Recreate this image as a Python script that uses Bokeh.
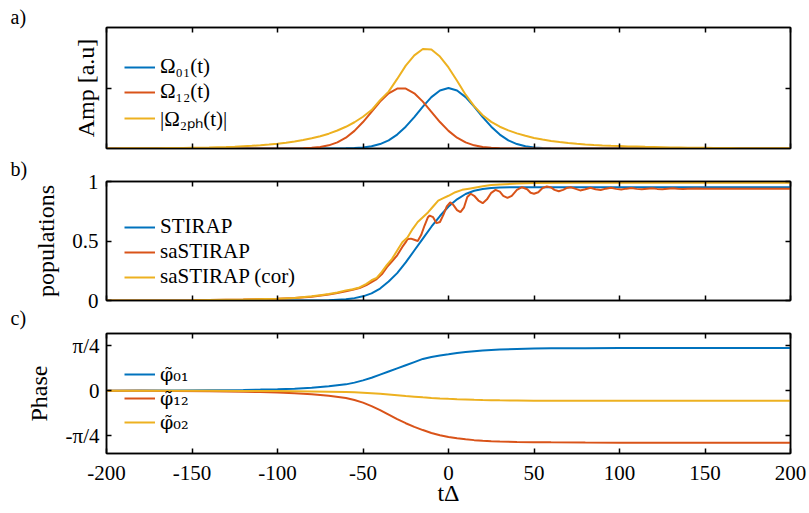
import numpy as np
from bokeh.plotting import figure
from bokeh.models import (Range1d, LinearAxis, FixedTicker, Legend, LegendItem,
                          Title)
from bokeh.layouts import column
from bokeh.embed import file_html
from bokeh.resources import INLINE

BLUE = "#0072BD"
RED = "#D95319"
YEL = "#EDB120"
FONT = "Liberation Serif"

# ---------------- data ----------------
x_ticks = [-200, -150, -100, -50, 0, 50, 100, 150, 200]
x_tick_labels = ["-200", "-150", "-100", "-50", "0", "50", "100", "150", "200"]

# panel a : pulse amplitudes (sampled every 5 units of t)
t_a = list(range(-200, 201, 5))
omega01 = [0.0] * 27 + [
    0.001, 0.003, 0.007, 0.017, 0.037, 0.073, 0.135, 0.230, 0.361, 0.520,
    0.693, 0.849, 0.960, 1.000, 0.960, 0.849, 0.693, 0.520, 0.361, 0.230,
    0.135, 0.073, 0.037, 0.017, 0.007, 0.003, 0.001] + [0.0] * 27
omega12 = [0.0] * 22 + [
    0.002, 0.005, 0.011, 0.025, 0.052, 0.101, 0.178, 0.291, 0.437, 0.607,
    0.775, 0.912, 0.990, 0.990, 0.912, 0.775, 0.607, 0.437, 0.291, 0.178,
    0.101, 0.052, 0.025, 0.011, 0.005, 0.002] + [0.0] * 33
omega2ph = [
    0.002, 0.002, 0.003, 0.003, 0.004, 0.005, 0.006, 0.007, 0.008, 0.010,
    0.012, 0.014, 0.017, 0.021, 0.025, 0.030, 0.037, 0.044, 0.054, 0.065,
    0.079, 0.095, 0.115, 0.139, 0.168, 0.203, 0.245, 0.297, 0.359, 0.434,
    0.525, 0.635, 0.800, 0.940, 1.150, 1.370, 1.540, 1.645, 1.635, 1.520,
    1.340, 1.120, 0.890, 0.700, 0.550, 0.440, 0.360, 0.300, 0.250, 0.210,
    0.175, 0.148, 0.125, 0.106, 0.090, 0.077, 0.066, 0.058, 0.051, 0.045,
    0.040, 0.035, 0.031, 0.027, 0.024, 0.021, 0.018, 0.016, 0.014, 0.012,
    0.011, 0.009, 0.008, 0.007, 0.006, 0.005, 0.0045, 0.004, 0.0035, 0.003,
    0.0027]
amp_ticks = [1]

# panel b : populations
st_t = [-200, -100, -80, -70, -60, -55, -50, -45, -40, -35, -30, -25, -20,
        -15, -10, -5, 0, 5, 10, 15, 20, 25, 30, 40, 50, 200]
st_p = [0, 0, 0.001, 0.003, 0.01, 0.02, 0.035, 0.06, 0.10, 0.16, 0.23, 0.32,
        0.42, 0.52, 0.62, 0.71, 0.79, 0.85, 0.895, 0.922, 0.937, 0.945, 0.95,
        0.952, 0.952, 0.952]
sa_t = [-200, -150, -120, -100, -90, -80, -70, -65, -60, -56,
        -52, -48, -45, -42, -39, -36, -33, -30, -27, -25,
        -24, -22, -20, -18, -16, -14, -12, -11, -9, -7,
        -5, -3, -1, 1, 3, 5, 7, 9, 11, 13,
        15, 17.5, 20, 22.5, 25, 27.5, 30, 32, 34.5, 37,
        40, 43, 46, 48, 50, 52.5, 55, 57.5, 60, 62,
        64.5, 67, 69, 71.5, 74, 77, 80, 83, 86, 89,
        92, 95, 98, 101, 104, 107, 110, 113, 116, 119,
        122, 125, 128, 131, 134, 137, 140, 145, 150, 160, 200]
sa_p = [0, 0.003, 0.008, 0.015, 0.02, 0.032, 0.05, 0.062, 0.078, 0.09,
        0.105, 0.13, 0.155, 0.18, 0.22, 0.28, 0.33, 0.38, 0.45, 0.49,
        0.515, 0.52, 0.51, 0.50, 0.55, 0.63, 0.70, 0.714, 0.70, 0.65,
        0.66, 0.72, 0.79, 0.825, 0.80, 0.76, 0.742, 0.78, 0.87, 0.897,
        0.88, 0.84, 0.818, 0.85, 0.905, 0.93, 0.915, 0.88, 0.863, 0.88,
        0.93, 0.952, 0.935, 0.905, 0.897, 0.91, 0.945, 0.958, 0.95, 0.93,
        0.918, 0.93, 0.945, 0.952, 0.94, 0.925, 0.935, 0.948, 0.935, 0.928,
        0.94, 0.947, 0.938, 0.932, 0.94, 0.945, 0.938, 0.934, 0.94, 0.944,
        0.938, 0.935, 0.94, 0.943, 0.939, 0.936, 0.94, 0.942, 0.94, 0.94, 0.94]
cor_t = [-200, -150, -120, -100, -90, -80, -75, -70, -65, -60,
         -56, -52, -48, -45, -42, -39, -36, -33, -30, -27,
         -24, -21, -18, -15, -12, -9, -6, -3, 0, 4,
         8, 12, 16, 20, 25, 30, 40, 50, 70, 200]
cor_p = [0, 0.003, 0.008, 0.015, 0.022, 0.035, 0.045, 0.055, 0.068, 0.085,
         0.095, 0.11, 0.14, 0.17, 0.19, 0.24, 0.30, 0.35, 0.42, 0.49,
         0.53, 0.60, 0.66, 0.70, 0.74, 0.79, 0.84, 0.86, 0.88, 0.91,
         0.93, 0.94, 0.95, 0.96, 0.97, 0.975, 0.983, 0.988, 0.99, 0.99]
pop_ticks = [0, 0.5, 1]
pop_tick_labels = ["0", "0.5", "1"]

# panel c : phases (rad)
ph_t = [-200, -180, -160, -140, -120, -110, -100, -90, -80, -70,
        -60, -55, -50, -45, -40, -35, -30, -25, -20, -15,
        -10, -5, 0, 5, 10, 15, 20, 25, 30, 40,
        50, 60, 80, 100, 150, 200]
phi01 = [0, 0.002, 0.004, 0.008, 0.013, 0.018, 0.025, 0.035, 0.05, 0.075,
         0.11, 0.14, 0.18, 0.225, 0.28, 0.335, 0.39, 0.445, 0.50, 0.555,
         0.59, 0.615, 0.637, 0.66, 0.675, 0.69, 0.703, 0.712, 0.72, 0.73,
         0.736, 0.74, 0.743, 0.745, 0.745, 0.745]
phi12 = [0, -0.003, -0.006, -0.01, -0.018, -0.024, -0.032, -0.045, -0.063, -0.09,
         -0.13, -0.165, -0.21, -0.27, -0.34, -0.42, -0.50, -0.57, -0.635, -0.69,
         -0.74, -0.78, -0.81, -0.835, -0.852, -0.866, -0.876, -0.884, -0.89, -0.897,
         -0.902, -0.905, -0.908, -0.91, -0.912, -0.912]
phi02 = [0, -0.001, -0.0015, -0.003, -0.005, -0.006, -0.008, -0.011, -0.014, -0.018,
         -0.024, -0.029, -0.035, -0.044, -0.055, -0.067, -0.08, -0.093, -0.105, -0.117,
         -0.127, -0.136, -0.144, -0.151, -0.156, -0.161, -0.165, -0.168, -0.17, -0.173,
         -0.175, -0.176, -0.177, -0.178, -0.178, -0.178]
phase_ticks = [-np.pi / 4, 0, np.pi / 4]
phase_tick_labels = ["-π/4", "0", "π/4"]

# ---------------- helpers ----------------
TICK_PX = "21px"
LABEL_PX = "24px"
LEG_PX = "21px"
TAG_PX = "20px"


def style_axis(ax, ticks, labels=None, standoff=7):
    ax.ticker = FixedTicker(ticks=ticks)
    ax.minor_tick_line_color = None
    ax.major_tick_in = 5
    ax.major_tick_out = 0
    ax.axis_line_width = 1.5
    ax.axis_line_color = "black"
    ax.major_tick_line_width = 1.5
    ax.major_tick_line_color = "black"
    ax.major_label_text_font = FONT
    ax.major_label_text_color = "black"
    ax.axis_label_text_font = FONT
    ax.axis_label_text_font_style = "normal"
    ax.axis_label_text_font_size = LABEL_PX
    ax.axis_label_text_color = "black"
    if labels is None:
        ax.major_label_text_font_size = "0px"
        ax.major_label_overrides = {v: "" for v in ticks}
        ax.major_label_standoff = 0
    else:
        ax.major_label_text_font_size = TICK_PX
        ax.major_label_overrides = {v: l for v, l in zip(ticks, labels)}
        ax.major_label_standoff = standoff


def tag(text, standoff):
    return Title(text=text, align="left", offset=-96, standoff=standoff,
                 text_font=FONT, text_font_size=TAG_PX, text_font_style="normal",
                 text_color="black")


def make_fig(height, top, bottom, yr):
    p = figure(width=809, height=height, x_range=Range1d(-200, 200), y_range=yr,
               output_backend="svg", toolbar_location=None,
               min_border_left=106, min_border_right=19,
               min_border_top=top, min_border_bottom=bottom)
    p.grid.visible = False
    p.outline_line_color = "black"
    p.outline_line_width = 1.5
    p.background_fill_color = "white"
    p.border_fill_color = "white"
    bottom_ax = p.below[0]
    left_ax = p.left[0]
    top_ax = LinearAxis()
    right_ax = LinearAxis()
    p.add_layout(top_ax, "above")
    p.add_layout(right_ax, "right")
    return p, bottom_ax, left_ax, top_ax, right_ax


def add_legend(p, items, vx, vy, spacing, font=FONT, size=LEG_PX, lh=1.2):
    leg = Legend(items=items, location=(vx, vy))
    leg.background_fill_alpha = 0
    leg.border_line_color = None
    leg.label_text_font = font
    leg.label_text_font_size = size
    leg.label_text_line_height = lh
    leg.label_text_color = "black"
    leg.glyph_width = 31
    leg.label_height = 18
    leg.glyph_height = 18
    leg.label_standoff = 5
    leg.padding = 0
    leg.margin = 0
    leg.spacing = spacing
    p.add_layout(leg, "center")


# ---------------- panel a ----------------
pa, ba, la, ta, ra = make_fig(154, 27, 6, Range1d(0, 2))
pa.title = tag("a)", 0)
r1 = pa.line(t_a, omega01, line_color=BLUE, line_width=2)
r2 = pa.line(t_a, omega12, line_color=RED, line_width=2)
r3 = pa.line(t_a, omega2ph, line_color=YEL, line_width=2)
style_axis(ba, x_ticks)
style_axis(ta, x_ticks)
style_axis(la, amp_ticks)
style_axis(ra, amp_ticks)
la.axis_label = "Amp [a.u]"
la.axis_label_standoff = 8
add_legend(pa, [LegendItem(label="Ω₀₁(t)", renderers=[r1]),
                LegendItem(label="Ω₁₂(t)", renderers=[r2]),
                LegendItem(label="|Ω₂ₚₕ(t)|", renderers=[r3])], 18, 16, 0, lh=1.0)

# ---------------- panel b ----------------
pb, bb, lb, tb, rb = make_fig(178, 27, 32, Range1d(0, 1))
pb.title = tag("b)", 3)
pb.add_layout(tag("c)", 8), "below")
s1 = pb.line(st_t, st_p, line_color=BLUE, line_width=2)
s2 = pb.line(sa_t, sa_p, line_color=RED, line_width=2)
s3 = pb.line(cor_t, cor_p, line_color=YEL, line_width=2)
style_axis(bb, x_ticks)
style_axis(tb, x_ticks)
style_axis(lb, pop_ticks, pop_tick_labels, standoff=8)
style_axis(rb, pop_ticks)
lb.axis_label = "populations"
lb.axis_label_standoff = 10
add_legend(pb, [LegendItem(label="STIRAP", renderers=[s1]),
                LegendItem(label="saSTIRAP", renderers=[s2]),
                LegendItem(label="saSTIRAP (cor)", renderers=[s3])], 18, 11, -2)

# ---------------- panel c ----------------
pc, bc, lc, tc, rc = make_fig(181, 1, 60, Range1d(-1.1, 1.0))
pc.title = None
f1 = pc.line(ph_t, phi01, line_color=BLUE, line_width=2)
f2 = pc.line(ph_t, phi12, line_color=RED, line_width=2)
f3 = pc.line(ph_t, phi02, line_color=YEL, line_width=2)
style_axis(bc, x_ticks, x_tick_labels, standoff=12)
style_axis(tc, x_ticks)
style_axis(lc, phase_ticks, phase_tick_labels, standoff=7)
style_axis(rc, phase_ticks)
lc.axis_label = "Phase"
lc.axis_label_standoff = 11
bc.axis_label = "tΔ"
bc.axis_label_standoff = -3
add_legend(pc, [LegendItem(label="φ̃₀₁", renderers=[f1]),
                LegendItem(label="φ̃₁₂", renderers=[f2]),
                LegendItem(label="φ̃₀₂", renderers=[f3])], 18, 20, 2,
           font="DejaVu Serif", size="19px")

layout = column(pa, pb, pc, spacing=0)
open("out.html", "w").write(file_html(layout, INLINE))
